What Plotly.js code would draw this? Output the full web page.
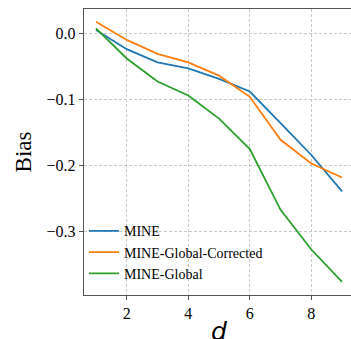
<!DOCTYPE html>
<html>
<head>
<meta charset="utf-8">
<script src="https://cdn.plot.ly/plotly-3.0.1.min.js"></script>
<style>html,body{margin:0;padding:0;background:#fff;}#chart{width:351px;height:339px;}</style>
</head>
<body>
<div id="chart"></div>
<script>
const d = [1, 2, 3, 4, 5, 6, 7, 8, 9];
const mine = [0.005, -0.024, -0.044, -0.053, -0.069, -0.088, -0.136, -0.184, -0.239];
const mineGlobalCorrected = [0.0176, -0.010, -0.031, -0.044, -0.064, -0.096, -0.161, -0.197, -0.218];
const mineGlobal = [0.0075, -0.038, -0.073, -0.094, -0.129, -0.175, -0.267, -0.327, -0.376];
const seriesNames = ['MINE', 'MINE-Global-Corrected', 'MINE-Global'];
const colors = ['#1f77b4', '#ff7f0e', '#2ca02c'];
const xTitle = '<i>d</i>';
const yTitle = 'Bias';

const ys = [mine, mineGlobalCorrected, mineGlobal];
const traces = ys.map((y, i) => ({
  x: d, y: y, type: 'scatter', mode: 'lines', name: seriesNames[i],
  line: {color: colors[i], width: 1.8}
}));

const serif = 'Liberation Serif';
const layout = {
  width: 351, height: 339,
  margin: {l: 84, r: 0, t: 9, b: 44},
  paper_bgcolor: '#fff', plot_bgcolor: '#fff',
  font: {family: serif, size: 16, color: '#000'},
  showlegend: true,
  legend: {
    x: 0.0, xanchor: 'left', y: 0.02, yanchor: 'bottom',
    bgcolor: 'rgba(255,255,255,0)', borderwidth: 0,
    font: {family: serif, size: 14, color: '#000'}
  },
  xaxis: {
    range: [0.61, 9.29], tickvals: [2, 4, 6, 8],
    showgrid: true, gridcolor: '#c8c8c8', griddash: '3px,2px', gridwidth: 1,
    zeroline: false, showline: true, mirror: true, linecolor: '#555', linewidth: 1.2,
    ticks: 'outside', ticklen: 4, tickcolor: '#555',
    tickfont: {family: serif, size: 16, color: '#000'}
  },
  yaxis: {
    range: [-0.3958, 0.0368], tickvals: [0, -0.1, -0.2, -0.3], tickformat: '.1f',
    showgrid: true, gridcolor: '#c8c8c8', griddash: '3px,2px', gridwidth: 1,
    zeroline: false, showline: true, mirror: false, linecolor: '#555', linewidth: 1.2,
    ticks: 'outside', ticklen: 4, tickcolor: '#555',
    tickfont: {family: serif, size: 16, color: '#000'},
    title: {text: yTitle, font: {family: serif, size: 23, color: '#000'}, standoff: 8}
  },
  annotations: [{
    text: xTitle, xref: 'paper', yref: 'paper', x: 0.506, y: -0.069,
    xanchor: 'center', yanchor: 'top', showarrow: false,
    font: {family: 'DejaVu Sans', size: 25, color: '#000'}
  }]
};

Plotly.newPlot('chart', traces, layout, {displayModeBar: false, staticPlot: true});
</script>
</body>
</html>
